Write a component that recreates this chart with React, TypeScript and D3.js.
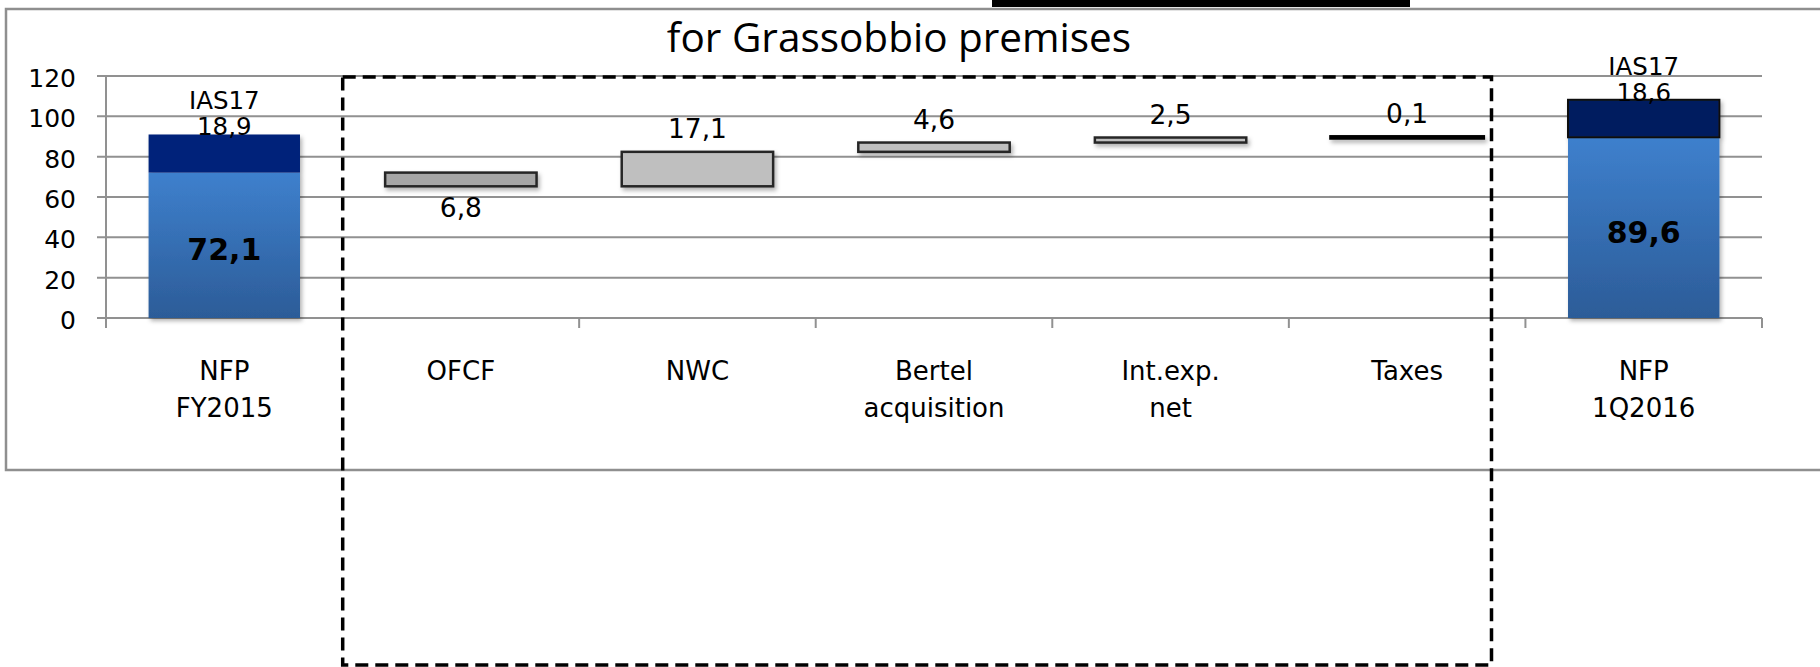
import React from "react";
import * as d3 from "d3";

// ---- data ----
const categoryKeys = ["NFP FY2015", "OFCF", "NWC", "Bertel acquisition", "Int.exp. net", "Taxes", "NFP 1Q2016"];
const categoryLines = [["NFP", "FY2015"], ["OFCF"], ["NWC"], ["Bertel", "acquisition"], ["Int.exp.", "net"], ["Taxes"], ["NFP", "1Q2016"]];
const nfpValues = [72.1, 89.6];
const ias17Values = [18.9, 18.6];
const nfpLabels = ["72,1", "89,6"];
const ias17Labels = ["18,9", "18,6"];
const bridgeDeltas = [-6.8, 17.1, 4.6, 2.5, 0.1];
const bridgeLabels = ["6,8", "17,1", "4,6", "2,5", "0,1"];
const yTicks = [0, 20, 40, 60, 80, 100, 120];
const titleText = "for Grassobbio premises";
const ias17Name = "IAS17";

const W = 1820;
const H = 667;
const VF = "'DejaVu Sans', Verdana, sans-serif";

export default function App() {
  const y = d3.scaleLinear().domain([0, 120]).range([318, 76]);
  const x = d3.scaleBand<string>().domain(categoryKeys).range([106, 1762]).padding(0);
  const barW = x.bandwidth() * 0.64;
  const cx = (k: string) => (x(k) as number) + x.bandwidth() / 2;

  // waterfall steps
  let running = nfpValues[0];
  const steps = bridgeDeltas.map((d, i) => {
    const from = running;
    const to = running + d;
    running = to;
    return { key: categoryKeys[i + 1], from, to, delta: d, label: bridgeLabels[i], i };
  });

  const nfpKeys = [categoryKeys[0], categoryKeys[categoryKeys.length - 1]];
  const bridgeFill = (i: number) => (i === 0 ? "#a6a6a6" : i === 4 ? "#000000" : "#bfbfbf");

  return (
    <svg width={W} height={H} style={{ position: "absolute", left: 0, top: 0, background: "#fff" }}>
      <defs>
        <linearGradient id="nfpGrad" x1="0" y1="0" x2="0" y2="1">
          <stop offset="0%" stopColor="#3e80cd" />
          <stop offset="100%" stopColor="#2c5c98" />
        </linearGradient>
        <filter id="shadow" filterUnits="userSpaceOnUse" x={0} y={0} width={W} height={H}>
          <feDropShadow dx="2" dy="3" stdDeviation="2.2" floodColor="#000" floodOpacity="0.3" />
        </filter>
      </defs>

      {/* top decoration */}
      <rect x={992} y={0} width={418} height={7} fill="#000" />

      {/* outer frame */}
      <rect x={6} y={9} width={W + 20} height={461} fill="none" stroke="#8f8f8f" strokeWidth={2.5} />

      {/* title */}
      <text x={899} y={52} textAnchor="middle" fontFamily="'Open Sans', 'Noto Sans', sans-serif" fontSize={40.5} fill="#000">
        {titleText}
      </text>

      {/* gridlines */}
      {yTicks.map((t) => (
        <line key={t} x1={97} x2={1762} y1={y(t)} y2={y(t)} stroke="#919191" strokeWidth={2} />
      ))}
      {/* y axis */}
      <line x1={106} x2={106} y1={y(120)} y2={y(0) + 10} stroke="#919191" strokeWidth={2} />
      {/* category ticks */}
      {categoryKeys.map((k) => (
        <line key={k} x1={x(k) as number} x2={x(k) as number} y1={y(0)} y2={y(0) + 10} stroke="#919191" strokeWidth={2} />
      ))}
      <line x1={1762} x2={1762} y1={y(0)} y2={y(0) + 10} stroke="#919191" strokeWidth={2} />

      {/* y tick labels */}
      {yTicks.map((t) => (
        <text key={t} x={76} y={y(t) + 11} textAnchor="end" fontFamily={VF} fontSize={25} fill="#000">
          {t}
        </text>
      ))}

      {/* category labels */}
      {categoryKeys.map((k, i) => (
        <text key={k} x={cx(k)} y={380} textAnchor="middle" fontFamily={VF} fontSize={26} fill="#000">
          {categoryLines[i].map((ln, j) => (
            <tspan key={j} x={cx(k)} dy={j === 0 ? 0 : 37}>
              {ln}
            </tspan>
          ))}
        </text>
      ))}

      {/* NFP stacked bars */}
      {nfpKeys.map((k, i) => {
        const x0 = cx(k) - barW / 2;
        const base = nfpValues[i];
        const tot = base + ias17Values[i];
        return (
          <g key={k}>
            <g filter="url(#shadow)">
              <rect x={x0} y={y(base)} width={barW} height={y(0) - y(base)} fill="url(#nfpGrad)" />
              <rect
                x={x0}
                y={y(tot)}
                width={barW}
                height={y(base) - y(tot)}
                fill={i === 0 ? "#04247a" : "#021f5e"}
                stroke={i === 0 ? "none" : "#111"}
                strokeWidth={2}
              />
            </g>
            <text x={cx(k)} y={y(base / 2) + 15} textAnchor="middle" fontFamily={VF} fontWeight="bold" fontSize={30} fill="#000">
              {nfpLabels[i]}
            </text>
            <text x={cx(k)} y={y(tot) + 1} textAnchor="middle" fontFamily={VF} fontSize={24.5} fill="#000">
              {ias17Labels[i]}
            </text>
            <text x={cx(k)} y={y(tot) - 25} textAnchor="middle" fontFamily={VF} fontSize={24.5} fill="#000">
              {ias17Name}
            </text>
          </g>
        );
      })}

      {/* bridge bars */}
      {steps.map((s) => {
        const top = Math.max(s.from, s.to);
        const bot = Math.min(s.from, s.to);
        const x0 = cx(s.key) - barW / 2;
        const isLine = s.i === 4;
        return (
          <g key={s.key}>
            <rect
              x={x0}
              y={y(top)}
              width={barW}
              height={Math.max(0.2, y(bot) - y(top))}
              fill={bridgeFill(s.i)}
              stroke={isLine ? "#000" : "#262626"}
              strokeWidth={isLine ? 4.5 : 2.5}
              filter="url(#shadow)"
            />
            <text
              x={cx(s.key)}
              y={s.delta < 0 ? y(bot) + 31 : y(top) - 14}
              textAnchor="middle"
              fontFamily={VF}
              fontSize={26.5}
              fill="#000"
            >
              {s.label}
            </text>
          </g>
        );
      })}

      {/* dashed highlight box */}
      <rect
        x={342.7}
        y={77}
        width={1491.5 - 342.7}
        height={665 - 77}
        fill="none"
        stroke="#000"
        strokeWidth={3.5}
        strokeDasharray="13 7"
      />
    </svg>
  );
}
